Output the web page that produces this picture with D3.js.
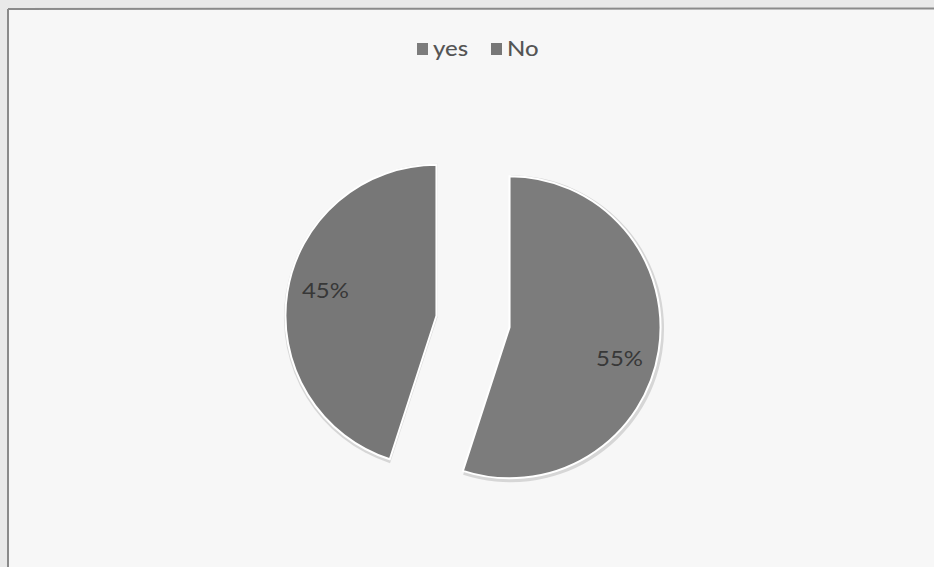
<!DOCTYPE html>
<html>
<head>
<meta charset="utf-8">
<script src="https://cdn.jsdelivr.net/npm/d3@7/dist/d3.min.js"></script>
<style>
html,body{margin:0;padding:0;background:#ececec;}
svg{display:block;}
</style>
</head>
<body>
<svg id="chart" width="934" height="567"></svg>
<script>
const categories = ["yes", "No"];
const values = [55, 45];
const labels = ["55%", "45%"];
const colors = ["#7c7c7c", "#777777"];

const svg = d3.select("#chart");
const W = 934, H = 567;
const FONT = "Lato, 'Open Sans', sans-serif";

// page / frame
svg.append("rect").attr("x", 0).attr("y", 0).attr("width", W).attr("height", H).attr("fill", "#e9e9e9");
svg.append("rect").attr("x", 8).attr("y", 9).attr("width", W - 8).attr("height", H - 9).attr("fill", "#f7f7f7");
svg.append("line").attr("x1", 8).attr("y1", 9).attr("x2", W).attr("y2", 8.5)
  .attr("stroke", "#8a8a8a").attr("stroke-width", 2);
svg.append("line").attr("x1", 8).attr("y1", 9).attr("x2", 8).attr("y2", H)
  .attr("stroke", "#8a8a8a").attr("stroke-width", 2);

// legend
const color = d3.scaleOrdinal().domain(categories).range(colors);
const legend = svg.append("g").attr("font-family", FONT)
  .attr("font-size", 21).attr("font-weight", 500).attr("fill", "#555");
const legendX = [417, 491];
categories.forEach((c, i) => {
  const g = legend.append("g").attr("transform", `translate(${legendX[i]},43)`);
  g.append("rect").attr("width", 11).attr("height", 12).attr("fill", color(c));
  g.append("text").attr("transform", "translate(16,12.5) scale(1.14,1)").text(c);
});

// pie
const cx = 473, cy = 321.5, r = 151, explode = 37;
const pie = d3.pie().sort(null).value(d => d);
const arc = d3.arc().innerRadius(0).outerRadius(r);
const arcs = pie(values);
const g = svg.append("g").attr("transform", `translate(${cx},${cy})`);

const slice = g.selectAll("g.slice").data(arcs).join("g").attr("class", "slice")
  .attr("transform", d => {
    const a = (d.startAngle + d.endAngle) / 2;
    return `translate(${Math.sin(a) * explode},${-Math.cos(a) * explode})`;
  });

// soft shadow edge
slice.append("path").attr("d", d3.arc().innerRadius(0).outerRadius(r + 2.5))
  .attr("fill", "#d6d6d6").attr("transform", "translate(1,1.5)");
slice.append("path").attr("d", arc)
  .attr("fill", (d, i) => color(categories[i]))
  .attr("stroke", "#ffffff").attr("stroke-width", 2);

const labelPos = [[110, 39], [-111, -18]];
slice.append("text")
  .attr("transform", (d, i) => `translate(${labelPos[i][0]},${labelPos[i][1]}) scale(1.14,1)`)
  .attr("text-anchor", "middle")
  .attr("font-family", FONT)
  .attr("font-size", 21)
  .attr("fill", "#383838")
  .text((d, i) => labels[i]);
</script>
</body>
</html>
